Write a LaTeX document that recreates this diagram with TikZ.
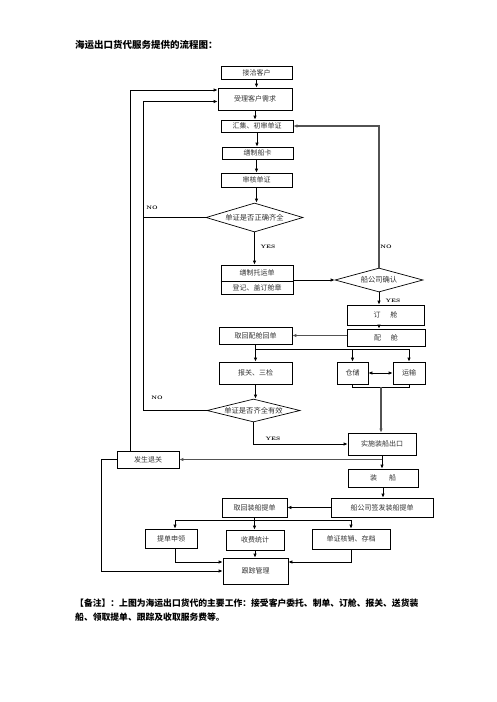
\documentclass[tikz,border=0pt]{standalone}
\usepackage{fontspec}
\newfontfamily\cjk{Noto Sans CJK SC}
\usetikzlibrary{shapes.geometric,arrows.meta}
\begin{document}
\begin{tikzpicture}[x=1pt,y=-1pt,
  box/.style={draw,line width=0.7pt,inner sep=0pt,font=\cjk\fontsize{7}{8}\selectfont,text=black!80},
  txt/.style={inner sep=0pt,font=\cjk\fontsize{7}{8}\selectfont,text=black!80},
  dia/.style={draw,diamond,line width=0.7pt,inner sep=0pt,font=\cjk\fontsize{7.3}{8}\selectfont,text=black!80},
  arr/.style={-{Latex[length=4pt,width=3.4pt]},line width=0.7pt},
  ln/.style={line width=0.7pt},
  gl/.style={draw=black!68,line width=1.1pt},
  lab/.style={inner sep=0pt,font=\fontsize{5}{6}\selectfont\bfseries},
  ttl/.style={anchor=west,inner sep=0pt,font=\cjk\bfseries\fontsize{9.5}{11}\selectfont}
]
\useasboundingbox (0,0) rectangle (496,702);
\node[ttl] (title) at (75,45) {海运出口货代服务提供的流程图：};

\node[box,minimum width=71pt,minimum height=13pt] (jq) at (256.5,72.5) {接洽客户};
\node[box,minimum width=74pt,minimum height=22pt] (sl) at (255,99) {受理客户需求};
\node[box,minimum width=72pt,minimum height=12pt] (hj) at (257,126) {汇集、初审单证};
\node[box,minimum width=71pt,minimum height=12pt] (sz) at (257.5,153) {缮制船卡};
\node[box,minimum width=71pt,minimum height=14pt] (sh) at (256.5,180) {审核单证};
\node[dia,minimum width=97pt,minimum height=29pt,aspect=3.34] (d1) at (254.5,217.5) {单证是否正确齐全};
\node[box,minimum width=72pt,minimum height=29pt] (ty) at (257,279.5) {};
\coordinate (tydiv) at (257,281);
\draw[ln] (ty.west |- tydiv) -- (ty.east |- tydiv);
\node[txt] (ty1) at (257,273) {缮制托运单};
\node[txt] (ty2) at (257,288) {登记、盖订舱章};
\node[dia,minimum width=88pt,minimum height=24pt,aspect=3.67] (d2) at (379,280) {船公司确认};
\node[box,minimum width=77pt,minimum height=20pt] (dc) at (385.5,315) {订\hspace{10pt}舱};
\node[box,minimum width=78pt,minimum height=17pt] (pc) at (386,337.5) {配\hspace{10pt}舱};
\node[box,minimum width=73pt,minimum height=17pt] (qh) at (255.5,335.5) {取回配舱回单};
\node[box,minimum width=73pt,minimum height=22pt] (bg) at (255.5,373) {报关、三检};
\node[box,minimum width=31pt,minimum height=22pt] (cc) at (352.5,373) {仓储};
\node[box,minimum width=32pt,minimum height=22pt] (ys) at (409,373) {运输};
\node[dia,minimum width=93pt,minimum height=23pt,aspect=4.04] (d3) at (253.5,410.5) {单证是否齐全有效};
\node[box,minimum width=68pt,minimum height=22pt] (ss) at (382,444) {实施装船出口};
\node[box,minimum width=62pt,minimum height=17pt] (tg) at (148,459.5) {发生退关};
\node[box,minimum width=70pt,minimum height=18pt] (zc) at (383,478) {装\hspace{12pt}船};
\node[box,minimum width=102pt,minimum height=19pt] (cg) at (382,507.5) {船公司签发装船提单};
\node[box,minimum width=65pt,minimum height=19pt] (qz) at (254.5,507.5) {取回装船提单};
\node[box,minimum width=52pt,minimum height=19pt] (td) at (171,538.5) {提单申领};
\node[box,minimum width=58pt,minimum height=20pt] (sf) at (255,540) {收费统计};
\node[box,minimum width=78pt,minimum height=20pt] (dz) at (351,539) {单证核销、存档};
\node[box,minimum width=65pt,minimum height=26pt] (gz) at (255.5,571) {跟踪管理};

% main column
\draw[arr] (jq.south) -- (jq.south |- sl.north);
\draw[arr] (sl.south) -- (sl.south |- hj.north);
\draw[arr] (hj.south) -- (hj.south |- sz.north);
\draw[arr] (sh.south |- sz.south) -- (sh.south |- sh.north);
\draw[arr] (sh.south) -- (sh.south |- d1.north);
\draw[arr] (d1.south) -- (d1.south |- ty.north);
\draw[arr] (ty.east |- d2.west) -- (d2.west);
\draw[arr,gl] (d2.north) -- (d2.north |- hj.east) -- (hj.east);
\draw[arr] (d2.south) -- (d2.south |- dc.north);
\draw[arr] (d2.south |- dc.south) -- (d2.south |- pc.north);
\draw[arr,gl] (pc.west |- qh.east) -- (qh.east);
\draw[arr] (qh.south) -- (qh.south |- bg.north);
\coordinate (br) at (255.5,349);
\draw[ln] (br) -- (br -| ys.north);
\draw[arr] (br -| cc.north) -- (cc.north);
\draw[arr] (br -| ys.north) -- (ys.north);
\draw[{Latex[length=4pt,width=3.4pt]}-{Latex[length=4pt,width=3.4pt]},line width=0.7pt] (cc.east) -- (ys.west);
\draw[ln] (cc.south) -- ++(0,3) -| (ys.south);
\coordinate (bm) at (381,387);
\draw[arr,gl] (bm) -- (bm |- ss.north);
\draw[arr] (bg.south) -- (bg.south |- d3.north);
\draw[arr] (d3.south) |- (ss.west);
\draw[arr] (ss.south) -- (ss.south |- zc.north);
\draw[arr,gl] (ss.south |- tg.east) -- (tg.east);
\draw[arr] (zc.south) -- (zc.south |- cg.north);
\draw[arr] (cg.west) -- (qz.east);
\coordinate (b2l) at (175,520);
\coordinate (b2r) at (351,520);
\draw[ln] (b2l) -- (b2r);
\draw[arr] (b2l) -- (b2l |- td.north);
\draw[arr] (qz.south) -- (qz.south |- sf.north);
\draw[arr] (b2r) -- (b2r |- dz.north);
\draw[arr] (sf.south) -- (sf.south |- gz.north);
\draw[arr] (b2l |- td.south) |- ([yshift=9pt]gz.west);
\draw[arr] (b2r |- dz.south) |- ([yshift=9pt]gz.east);
\coordinate (lx) at (101,461);
\draw[arr] (tg.west) -- (tg.west -| lx) |- (gz.west);

% loops back
\draw[arr] ([xshift=-18pt]tg.north) |- ([yshift=9pt]sl.west);
\coordinate (c1) at (143,410.5);
\draw[arr] (d3.west) -- (d3.west -| c1) |- ([yshift=-2.5pt]sl.west);
\draw[ln] (d1.west) -- (d1.west -| c1);

% labels
\node[lab] (n1) at (152,208) {NO};
\node[lab] (y1) at (268,247) {YES};
\node[lab] (n2) at (386,247) {NO};
\node[lab] (y2) at (393,301) {YES};
\node[lab] (n3) at (157,398) {NO};
\node[lab] (y3) at (273,439) {YES};

% note
\node[ttl,font=\cjk\bfseries\fontsize{8.8}{10}\selectfont] (note1) at (75,603) {【备注】：上图为海运出口货代的主要工作：接受客户委托、制单、订舱、报关、送货装};
\node[ttl,font=\cjk\bfseries\fontsize{8.8}{10}\selectfont] (note2) at (75,617) {船、领取提单、跟踪及收取服务费等。};
\end{tikzpicture}
\end{document}
